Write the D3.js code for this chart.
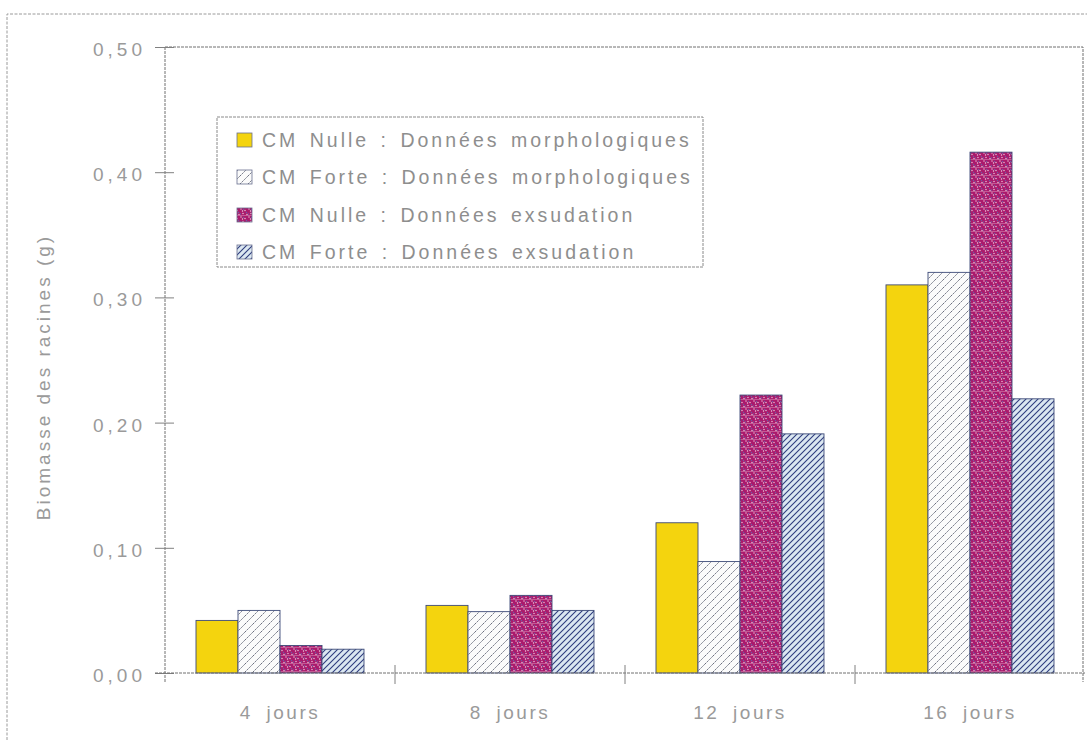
<!DOCTYPE html>
<html><head><meta charset="utf-8">
<script src="https://cdn.jsdelivr.net/npm/d3@7"></script>
<style>
html,body{margin:0;padding:0;background:#fff;}
svg{display:block;}
text{font-family:"Liberation Sans",Arial,sans-serif;}
</style></head>
<body>
<svg id="chart" width="1087" height="740"></svg>
<script>
const categories = ["4 jours", "8 jours", "12 jours", "16 jours"];
const seriesNames = [
  "CM Nulle : Données morphologiques",
  "CM Forte : Données morphologiques",
  "CM Nulle : Données exsudation",
  "CM Forte : Données exsudation"
];
const nulleMorpho = [0.042, 0.054, 0.120, 0.310];
const forteMorpho = [0.050, 0.049, 0.089, 0.320];
const nulleExsud  = [0.022, 0.062, 0.222, 0.416];
const forteExsud  = [0.019, 0.050, 0.191, 0.219];
const tickValues = [0, 0.1, 0.2, 0.3, 0.4, 0.5];
const tickLabels = ["0,00", "0,10", "0,20", "0,30", "0,40", "0,50"];
const yLabel = "Biomasse des racines (g)";

const seriesValues = [nulleMorpho, forteMorpho, nulleExsud, forteExsud];
const fills = ["#f4d40e", "url(#hatchWhite)", "url(#dotPurple)", "url(#hatchBlue)"];

const svg = d3.select("#chart");
const defs = svg.append("defs");

// hatch white
const h1 = defs.append("pattern").attr("id","hatchWhite").attr("patternUnits","userSpaceOnUse")
  .attr("width",8).attr("height",8);
h1.append("rect").attr("width",8).attr("height",8).attr("fill","#fbfbfb");
h1.append("path").attr("d","M-1,1 l2,-2 M0,8 l8,-8 M7,9 l2,-2")
  .attr("stroke","#5a5f70").attr("stroke-width",0.9).attr("stroke-dasharray","2,1");
// hatch blue
const h2 = defs.append("pattern").attr("id","hatchBlue").attr("patternUnits","userSpaceOnUse")
  .attr("width",6).attr("height",6);
h2.append("rect").attr("width",6).attr("height",6).attr("fill","#dbe7f1");
h2.append("path").attr("d","M-1,1 l2,-2 M0,6 l6,-6 M5,7 l2,-2")
  .attr("stroke","#2e3c7e").attr("stroke-width",1.1);
// dotted purple
const p = defs.append("pattern").attr("id","dotPurple").attr("patternUnits","userSpaceOnUse")
  .attr("width",8).attr("height",8);
p.append("rect").attr("width",8).attr("height",8).attr("fill","#ab1a6c");
[[1,1],[5,2.5],[3,5.5],[7,6.5],[2.5,3]].forEach(d=>p.append("circle").attr("cx",d[0]).attr("cy",d[1]).attr("r",0.7).attr("fill","#f0cfe0"));
[[3.5,1.5],[6.5,4.5],[0.5,6]].forEach(d=>p.append("circle").attr("cx",d[0]).attr("cy",d[1]).attr("r",0.7).attr("fill","#6b5ea8"));
p.append("rect").attr("x",0).attr("y",7.6).attr("width",8).attr("height",0.4).attr("fill","#e8b8d0");

// outer border
svg.append("path").attr("d","M7,740 L7,14 L1087,14")
  .attr("fill","none").attr("stroke","#9a9a9a").attr("stroke-width",1).attr("stroke-dasharray","3,1.5");

const x = d3.scaleBand().domain(categories).range([165, 1085]).padding(0);
const x1 = d3.scaleBand().domain(d3.range(seriesNames.length)).range([31, 199]).padding(0);
const y = d3.scaleLinear().domain([0, 0.5]).range([673, 47]);

// frame top and right
svg.append("path").attr("d",`M${x.range()[0]},${y(0.5)} L1083,${y(0.5)} L1083,682`)
  .attr("fill","none").attr("stroke","#707070").attr("stroke-width",1).attr("stroke-dasharray","3,1");

// bars
const groups = svg.append("g").selectAll("g").data(categories).join("g")
  .attr("transform", d => `translate(${x(d)},0)`);
groups.selectAll("rect").data((c, ci) => seriesValues.map((s, si) => ({si, v: s[ci]})))
  .join("rect")
  .attr("x", d => x1(d.si))
  .attr("y", d => y(d.v))
  .attr("width", x1.bandwidth())
  .attr("height", d => y(0) - y(d.v))
  .attr("fill", d => fills[d.si])
  .attr("stroke", "#3d4a78").attr("stroke-width", 0.9);

// y axis
const yAxis = d3.axisLeft(y).tickValues(tickValues).tickFormat((d,i)=>tickLabels[i]).tickSizeInner(0).tickSizeOuter(0).tickPadding(23);
const gy = svg.append("g").attr("transform", `translate(165,0)`).call(yAxis);
gy.select(".domain").attr("stroke","#707070").attr("stroke-dasharray","3,1").attr("d",`M0,${y(0.5)}V${y(0)+10}`);
gy.selectAll(".tick line").attr("x1",-10).attr("x2",9).attr("stroke","#808080");
gy.selectAll(".tick text").attr("fill","#9a9a9a").attr("font-size",19).attr("letter-spacing","4px")
  .attr("font-family","'Liberation Sans',Arial,sans-serif").attr("dx","4").attr("dy","0.45em");

// x axis
const xAxis = d3.axisBottom(x).tickSize(0).tickPadding(33);
const gx = svg.append("g").attr("transform", `translate(0,${y(0)})`).call(xAxis);
gx.select(".domain").attr("stroke","#707070").attr("stroke-dasharray","3,1").attr("d","M155,0H1085");
gx.selectAll(".tick text").attr("fill","#9a9a9a").attr("font-size",19).attr("letter-spacing","2.5px")
  .attr("word-spacing","6px").attr("font-family","'Liberation Sans',Arial,sans-serif");
// boundary ticks
gx.selectAll(".bnd").data(categories.slice(1)).join("line").attr("class","bnd")
  .attr("x1", d => x(d)).attr("x2", d => x(d)).attr("y1",-8).attr("y2",11)
  .attr("stroke","#808080").attr("stroke-width",1);

// y label
svg.append("text").attr("transform","translate(50,377) rotate(-90)").attr("text-anchor","middle")
  .attr("font-size",19).attr("letter-spacing","3px").attr("fill","#9a9a9a").text(yLabel);

// legend
const lg = svg.append("g");
lg.append("rect").attr("x",217).attr("y",117).attr("width",486).attr("height",150)
  .attr("fill","#fff").attr("stroke","#8a8a8a").attr("stroke-width",1).attr("stroke-dasharray","3,1");
const rowY = [140, 177, 215, 252];
seriesNames.forEach((n, i) => {
  lg.append("rect").attr("x",237).attr("y",rowY[i]-7).attr("width",15).attr("height",14)
    .attr("fill",fills[i]).attr("stroke","#6a7090").attr("stroke-width",0.8);
  lg.append("text").attr("x",262).attr("y",rowY[i]).attr("dy","0.35em")
    .attr("font-size",19.5).attr("letter-spacing","3px").attr("word-spacing","3px").attr("fill","#8e8e8e").text(n);
});
</script>
</body></html>
